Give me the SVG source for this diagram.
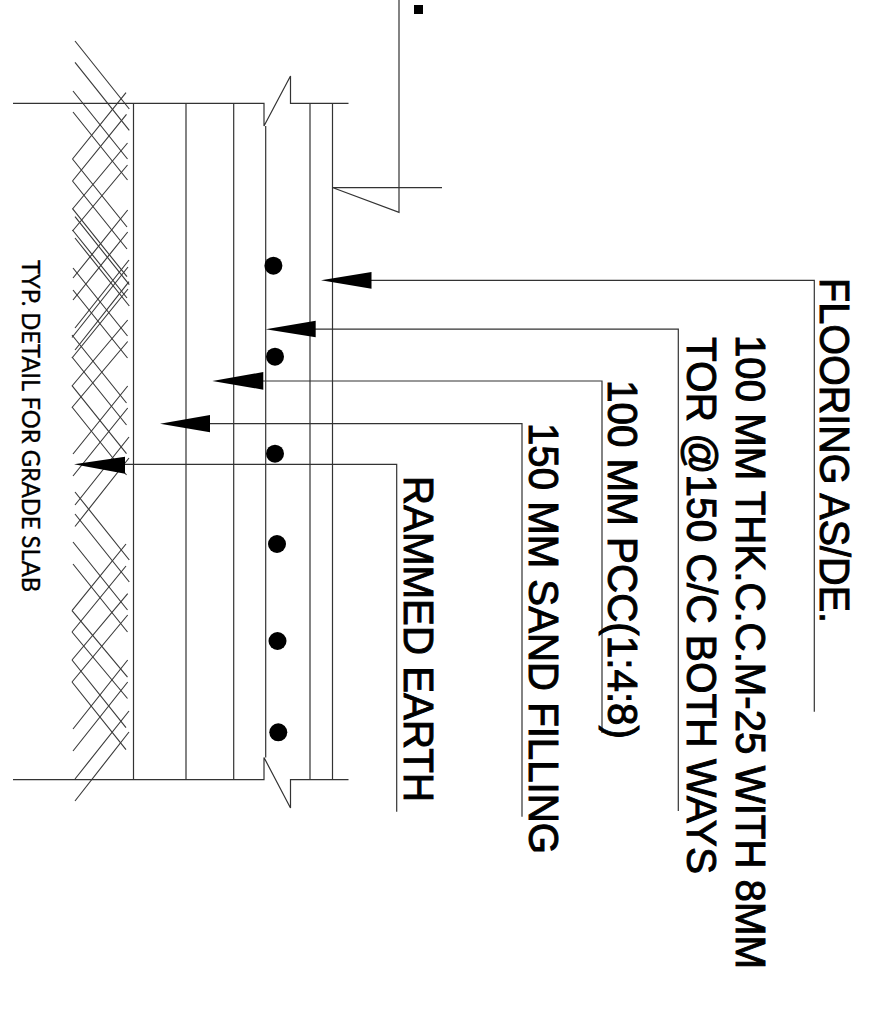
<svg xmlns="http://www.w3.org/2000/svg" width="876" height="1019" viewBox="0 0 876 1019">
<style>
.l{fill:none;stroke:#333;stroke-width:1.2}
.h{fill:none;stroke:#3c3c3c;stroke-width:1.15}
.a{fill:#000;stroke:none}
.t{font-family:"Liberation Sans",Arial,sans-serif;font-size:39px;fill:#000;stroke:#000;stroke-width:.9}
.s{font-family:"Lato","Liberation Sans",sans-serif;font-size:25px;fill:#000;stroke:#000;stroke-width:.35}
</style>
<rect width="876" height="1019" fill="#fff"/>
<g id="earth-hatch" class="h">
<path d="M75 41l54.3 68M75 62.3l54.3 68M73 91l54.5 68M73 112l54.5 68M72.5 159l54.5 68M72.5 181l54.5 68M72.5 208.7l54.5 68M72.5 230l54.5 68M75 216.7l54.3 68M75 238l54.3 68M73 268l54.5 68M73 290l54.5 68M72 335l54.5 68M72 357l54.5 68M72 385.7l54.5 68M72 407l54.5 68M75 492l54.3 68M75 514l54.3 68M73 542l54.5 68M73 564l54.5 68M72 610.7l55.5 66.5M72 632l55.5 66.5M72 660l54 67.7M72 682l54 67.7"/>
<path d="M72.5 159L126 92.7M72.5 181L126.5 114.3M72.5 209L127.5 143M72.5 231L127.5 165M73 278L127.7 210M73 300L127.7 232M75 328L129 260M75 350L129 281.7M72 337.5L128 267M72 358L128 289M72 386L127.7 320M72 407.5L127.7 341.5M73 454L127.7 386M73 476L127.7 408M75 505L129 437M75 526.5L129 458M72 610.7L126 544M72 632L126 566M72 660L127.7 593.7M72 682L127.7 615M73 729L127.7 660M73 751L127.7 682M75 779L129 711M75 801L129 732"/>
</g>
<g id="slab-section" class="l">
<path d="M13 103.3H264V126L290.5 76V103.3H348.5"/>
<path d="M13 779.7H264V757.5L290.5 808V779.7H348.5"/>
<path d="M133.5 103.3V779.7M186 103.3V779.7M233.7 103.3V779.7M265.7 126V757.5M310 103.3V779.7M332.5 103.3V779.7"/>
</g>
<g id="break-line" class="l">
<path d="M332.5 187.7H442M333 187.7L399 212.4V0"/>
<rect class="a" x="414" y="5" width="9" height="9"/>
</g>
<g id="rebars" class="a">
<circle cx="273.4" cy="265.7" r="9"/>
<circle cx="275" cy="356.7" r="9"/>
<circle cx="275" cy="453.7" r="9"/>
<circle cx="277" cy="544" r="9"/>
<circle cx="277.5" cy="641" r="9"/>
<circle cx="278.3" cy="732.3" r="9"/>
</g>
<g id="connectors">
<path class="l" d="M371 280.3H814.3V711.7M315 329.2H678.3V811M263 381H602V733M210 423.7H522V816.7M125 464.3H396.7V811.7"/>
<path class="a" d="M321 280.3L371.5 272V288.7Z"/>
<path class="a" d="M265.7 329.2L315.7 320.7V337.3Z"/>
<path class="a" d="M212.3 381L263.3 372V389.7Z"/>
<path class="a" d="M160 423.7L210 415V432.3Z"/>
<path class="a" d="M74 464.3L125 456.7V473.7Z"/>
</g>
<g id="label-flooring"><text class="t" transform="translate(820,278) rotate(90) scale(1,1.08)" textLength="345" lengthAdjust="spacingAndGlyphs">FLOORING AS/DE.</text></g>
<g id="label-cc"><text class="t" transform="translate(735.7,335) rotate(90) scale(1,1.08)" textLength="634" lengthAdjust="spacingAndGlyphs">100 MM THK.C.C.M-25 WITH 8MM</text>
<text class="t" transform="translate(686.7,337) rotate(90) scale(1,1.08)" textLength="537" lengthAdjust="spacingAndGlyphs">TOR @150 C/C BOTH WAYS</text></g>
<g id="label-pcc"><text class="t" transform="translate(608,380) rotate(90) scale(1,1.08)" textLength="359" lengthAdjust="spacingAndGlyphs">100 MM PCC(1:4:8)</text></g>
<g id="label-sand"><text class="t" transform="translate(529,423) rotate(90) scale(1,1.08)" textLength="431" lengthAdjust="spacingAndGlyphs">150 MM SAND FILLING</text></g>
<g id="label-earth"><text class="t" transform="translate(404,476) rotate(90) scale(1,1.08)" textLength="326" lengthAdjust="spacingAndGlyphs">RAMMED EARTH</text></g>
<g id="title"><text class="s" transform="translate(21.7,260) rotate(90)" textLength="332" lengthAdjust="spacingAndGlyphs">TYP. DETAIL FOR GRADE SLAB</text></g>
</svg>
